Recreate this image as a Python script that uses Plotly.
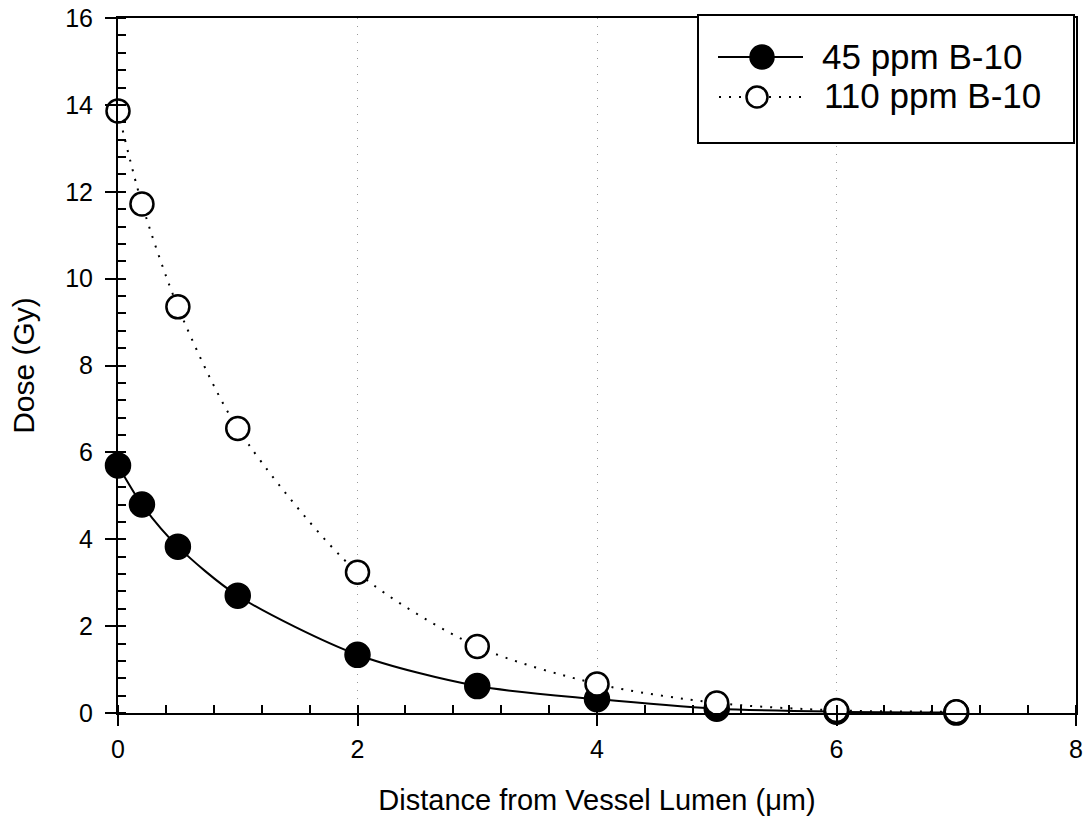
import plotly.graph_objects as go

# Distance from the vessel lumen (micrometres)
distance = [0, 0.2, 0.5, 1, 2, 3, 4, 5, 6, 7]
# Dose (Gy) for the two boron-10 concentrations
dose_45ppm = [5.70, 4.80, 3.83, 2.70, 1.34, 0.62, 0.32, 0.10, 0.03, 0.01]
dose_110ppm = [13.86, 11.72, 9.35, 6.55, 3.24, 1.53, 0.67, 0.23, 0.06, 0.03]

label_45 = "45 ppm B-10"
label_110 = "110 ppm B-10"

x_ticks = [0, 2, 4, 6, 8]
y_ticks = [0, 2, 4, 6, 8, 10, 12, 14, 16]

FONT = "Liberation Sans, Arial, sans-serif"
DOTS = "2px,8px"

fig = go.Figure()

fig.add_trace(go.Scatter(
    x=distance, y=dose_45ppm, name=label_45, mode="lines+markers",
    line=dict(color="black", width=2, shape="spline", smoothing=0.8),
    marker=dict(symbol="circle", size=25, color="black",
                line=dict(color="black", width=1.5)),
    showlegend=False, cliponaxis=False,
))
fig.add_trace(go.Scatter(
    x=distance, y=dose_110ppm, name=label_110, mode="lines+markers",
    line=dict(color="black", width=2, dash=DOTS, shape="spline", smoothing=0.8),
    marker=dict(symbol="circle", size=23, color="white",
                line=dict(color="black", width=2.5)),
    showlegend=False, cliponaxis=False,
))

axis_common = dict(
    showline=True, linecolor="black", linewidth=2, mirror=True,
    ticks="outside", ticklen=11, tickwidth=2, tickcolor="black",
    tickfont=dict(family=FONT, size=25, color="black"),
    zeroline=False, automargin=False,
)

fig.update_xaxes(
    range=[0, 8], tickvals=x_ticks, ticktext=[str(v) for v in x_ticks],
    showgrid=True, gridcolor="#9a9a9a", gridwidth=1, griddash="1px,7px",
    minor=dict(ticks="inside", ticklen=8, tickwidth=2, tickcolor="black",
               dtick=0.4, tick0=0, showgrid=False),
    ticklabelstandoff=2,
    title=dict(text="Distance from Vessel Lumen (\u03bcm)",
               font=dict(family=FONT, size=29, color="black"), standoff=28),
    **axis_common,
)
fig.update_yaxes(
    range=[0, 16], tickvals=y_ticks, ticktext=[str(v) for v in y_ticks],
    showgrid=False,
    minor=dict(ticks="inside", ticklen=8, tickwidth=2, tickcolor="black",
               dtick=0.4, tick0=0, showgrid=False),
    ticklabelstandoff=7,
    title=dict(text="Dose (Gy)",
               font=dict(family=FONT, size=30, color="black"), standoff=22),
    **axis_common,
)

# Legend box drawn by hand so the glyphs keep the full marker size
L, T, W, H = 118, 18, 958, 695


def px(xp):
    return (xp - L) / W


def py(yp):
    return (T + H - yp) / H


shapes = [
    dict(type="rect", xref="paper", yref="paper",
         x0=px(698), x1=px(1074), y0=py(143), y1=py(15),
         line=dict(color="black", width=2), fillcolor="white", layer="above"),
    dict(type="line", xref="paper", yref="paper",
         x0=px(718), x1=px(803), y0=py(57), y1=py(57),
         line=dict(color="black", width=2), layer="above"),
    dict(type="line", xref="paper", yref="paper",
         x0=px(719), x1=px(803), y0=py(97), y1=py(97),
         line=dict(color="black", width=2, dash=DOTS), layer="above"),
    dict(type="circle", xref="paper", yref="paper",
         xsizemode="pixel", ysizemode="pixel",
         xanchor=px(762), yanchor=py(57), x0=-12, x1=12, y0=-12, y1=12,
         line=dict(color="black", width=1.5), fillcolor="black", layer="above"),
    dict(type="circle", xref="paper", yref="paper",
         xsizemode="pixel", ysizemode="pixel",
         xanchor=px(757), yanchor=py(97), x0=-10.5, x1=10.5, y0=-10.5, y1=10.5,
         line=dict(color="black", width=2.5), fillcolor="white", layer="above"),
]

annotations = [
    dict(text=label_45, xref="paper", yref="paper", x=px(820), y=py(57),
         xanchor="left", yanchor="middle", showarrow=False,
         font=dict(family=FONT, size=35, color="black")),
    dict(text=label_110, xref="paper", yref="paper", x=px(822), y=py(95),
         xanchor="left", yanchor="middle", showarrow=False,
         font=dict(family=FONT, size=35, color="black")),
]

fig.update_layout(
    width=1086, height=833,
    margin=dict(l=L, r=1086 - L - W, t=T, b=833 - T - H),
    paper_bgcolor="white", plot_bgcolor="white",
    shapes=shapes, annotations=annotations,
    showlegend=False,
)

fig.write_html("out.html")
